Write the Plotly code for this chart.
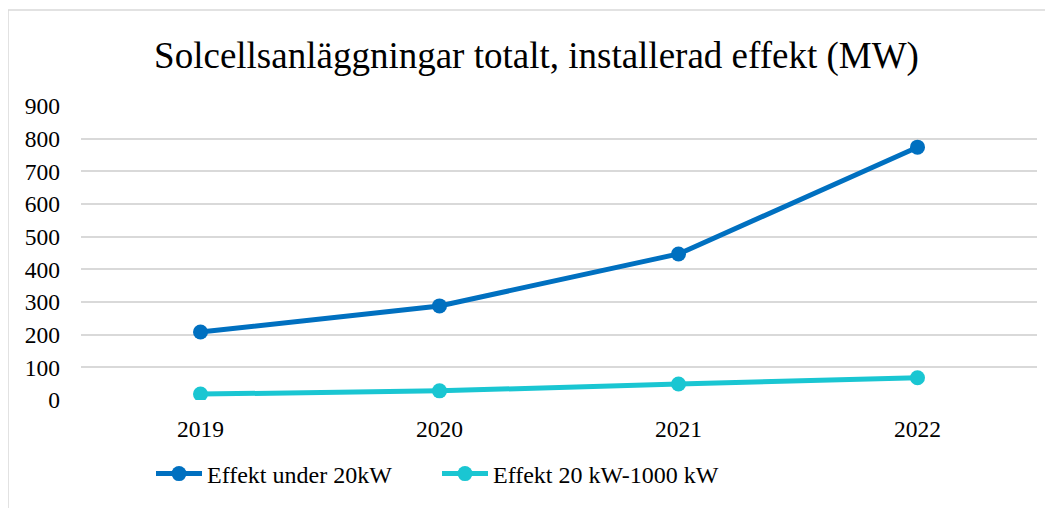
import plotly.graph_objects as go

years = ["2019", "2020", "2021", "2022"]
under_20kw = [208, 288, 447, 774]
kw_20_1000 = [18, 28, 49, 68]
series_names = ["Effekt under 20kW", "Effekt 20 kW-1000 kW"]
title_text = "Solcellsanläggningar totalt, installerad effekt (MW)"
y_ticks = [0, 100, 200, 300, 400, 500, 600, 700, 800, 900]

# the page body has an 8px margin, so the figure starts at (8, 8)
OFF = 8
W, H = 1053 - OFF, 508 - OFF
ml, mr, mt, mb = 81 - OFF, 16, 106 - OFF, 108
pw, ph = W - ml - mr, H - mt - mb

fig = go.Figure()
fig.add_trace(go.Scatter(x=years, y=under_20kw, name=series_names[0], mode="lines+markers",
                         line=dict(color="#0070C0", width=5), marker=dict(size=15, color="#0070C0")))
fig.add_trace(go.Scatter(x=years, y=kw_20_1000, name=series_names[1], mode="lines+markers",
                         line=dict(color="#1AC6D2", width=5), marker=dict(size=15, color="#1AC6D2")))

font = "Liberation Serif"
tf = dict(family=font, size=23.5, color="#000000")
lf = dict(family=font, size=24, color="#000000")
fig.update_layout(
    width=W, height=H,
    margin=dict(l=ml, r=mr, t=mt, b=mb),
    paper_bgcolor="white", plot_bgcolor="white",
    font=tf,
    title=dict(text=title_text, x=(536.5 - OFF) / W, xref="container", xanchor="center",
               y=1 - (55 - OFF) / H, yref="container", yanchor="middle",
               font=dict(family=font, size=37, color="#000000")),
    xaxis=dict(type="category", range=[-0.5, 3.5], showgrid=False, zeroline=False,
               showline=False, ticks="", ticklabelstandoff=12, tickfont=tf),
    yaxis=dict(range=[0, 900], tickvals=y_ticks, showgrid=True, gridcolor="#D9D9D9",
               gridwidth=1.5, zeroline=False, showline=False, ticks="",
               ticklabelstandoff=20, tickfont=tf),
    showlegend=True,
    legend=dict(orientation="h", x=(151 - 81) / pw, xanchor="left", y=-(474 - 400) / ph,
                yanchor="middle", font=lf, itemwidth=46, entrywidth=225, tracegroupgap=0,
                bgcolor="rgba(0,0,0,0)"),
)

# chart area border (partially outside the visible image)
fig.add_shape(type="rect", xref="paper", yref="paper",
              x0=(8 - 81) / pw, x1=1.2, y0=-1.0, y1=(400 - 10) / ph,
              line=dict(color="#D9D9D9", width=1.5), fillcolor="rgba(0,0,0,0)", layer="below")

fig.write_html("out.html")
